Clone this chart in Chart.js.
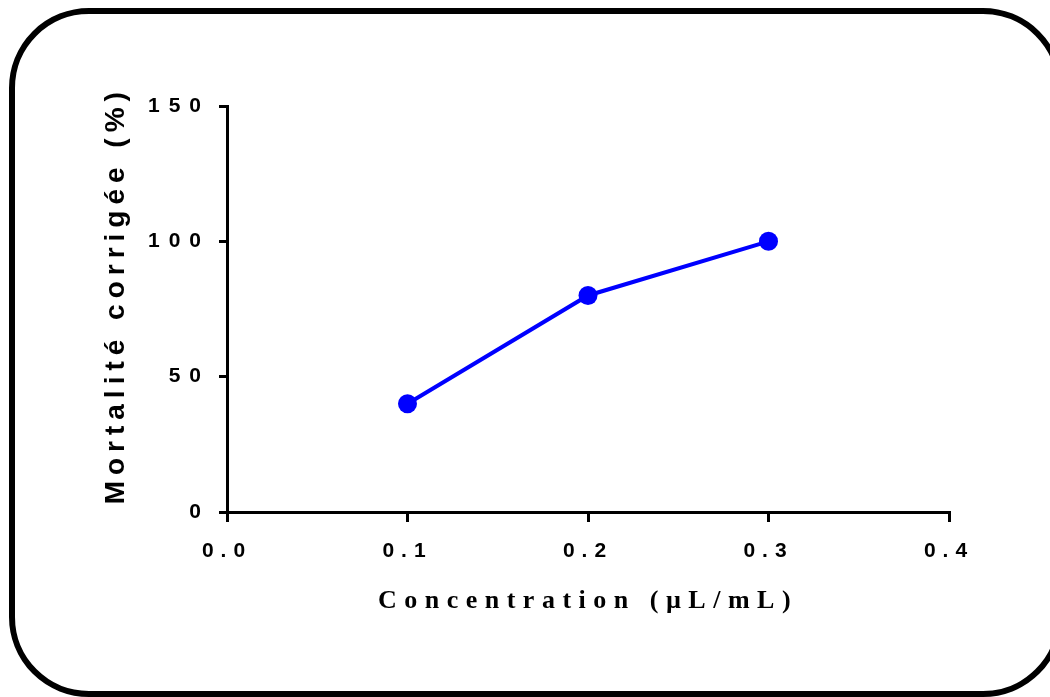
<!DOCTYPE html>
<html>
<head>
<meta charset="utf-8">
<script src="https://cdn.jsdelivr.net/npm/chart.js@4.4.1/dist/chart.umd.min.js"></script>
<style>
  html, body { margin: 0; padding: 0; background: #fff; overflow: hidden; width: 1050px; height: 697px; }
  #frame { position: absolute; left: 9px; top: 8px; width: 1054px; height: 689px; box-sizing: border-box;
           border: 6px solid #000; border-radius: 80px; }
  #c { position: absolute; left: 0; top: 0; }
</style>
</head>
<body>
<div id="frame"></div>
<canvas id="c" width="1050" height="697"></canvas>
<script>
const concentrations = [0.1, 0.2, 0.3];
const mortality = [40, 80, 100];
const xTickLabels = ['0.0', '0.1', '0.2', '0.3', '0.4'];
const yTickLabels = ['0', '50', '100', '150'];
const xTitle = 'Concentration (µL/mL)';
const yTitle = '\u00A0\u00A0Mortalité corrigée (%)';

function spaced(scale, tickSp, titleSp) {
  const proto = Chart.Scale.prototype;
  scale.drawLabels = function (area) {
    const c = this.ctx; c.save(); c.letterSpacing = tickSp; proto.drawLabels.call(this, area); c.restore();
  };
  scale.drawTitle = function () {
    const c = this.ctx; c.save(); c.letterSpacing = titleSp; proto.drawTitle.call(this); c.restore();
  };
}

new Chart(document.getElementById('c'), {
  type: 'scatter',
  data: {
    datasets: [{
      data: concentrations.map((x, i) => ({ x: x, y: mortality[i] })),
      showLine: true,
      borderColor: '#0000FF',
      backgroundColor: '#0000FF',
      borderWidth: 4,
      pointRadius: 9.5,
      pointHoverRadius: 9.5,
      pointBorderWidth: 0
    }]
  },
  options: {
    responsive: false,
    devicePixelRatio: 1,
    animation: false,
    layout: { padding: { left: 0, top: 106, right: 101, bottom: 0 } },
    plugins: { legend: { display: false }, tooltip: { enabled: false } },
    scales: {
      x: {
        type: 'linear', position: 'bottom', min: 0, max: 0.4,
        afterFit(s) { s.height = 185; spaced(s, '7px', '7.5px'); },
        grid: { drawOnChartArea: false, color: '#000', lineWidth: 3, tickLength: 10 },
        border: { display: true, color: '#000', width: 3 },
        ticks: {
          stepSize: 0.1, padding: 17, color: '#000',
          font: { family: 'Liberation Sans', weight: 'bold', size: 21 },
          callback: (v, i) => xTickLabels[i]
        },
        title: {
          display: true, text: xTitle, color: '#000',
          font: { family: 'Liberation Serif', weight: 'bold', size: 26, lineHeight: 1 },
          padding: { top: 0, bottom: 83 }
        }
      },
      y: {
        type: 'linear', position: 'left', min: 0, max: 150,
        afterFit(s) { s.width = 227; spaced(s, '9px', '6px'); },
        grid: { drawOnChartArea: false, color: '#000', lineWidth: 3, tickLength: 8 },
        border: { display: true, color: '#000', width: 3 },
        ticks: {
          stepSize: 50, padding: 9, color: '#000',
          font: { family: 'Liberation Sans', weight: 'bold', size: 21 },
          callback: (v, i) => yTickLabels[i]
        },
        title: {
          display: true, text: yTitle, color: '#000',
          font: { family: 'Liberation Sans', weight: 'bold', size: 28, lineHeight: 1 },
          padding: { top: 102, bottom: 0 }
        }
      }
    }
  }
});
</script>
</body>
</html>
